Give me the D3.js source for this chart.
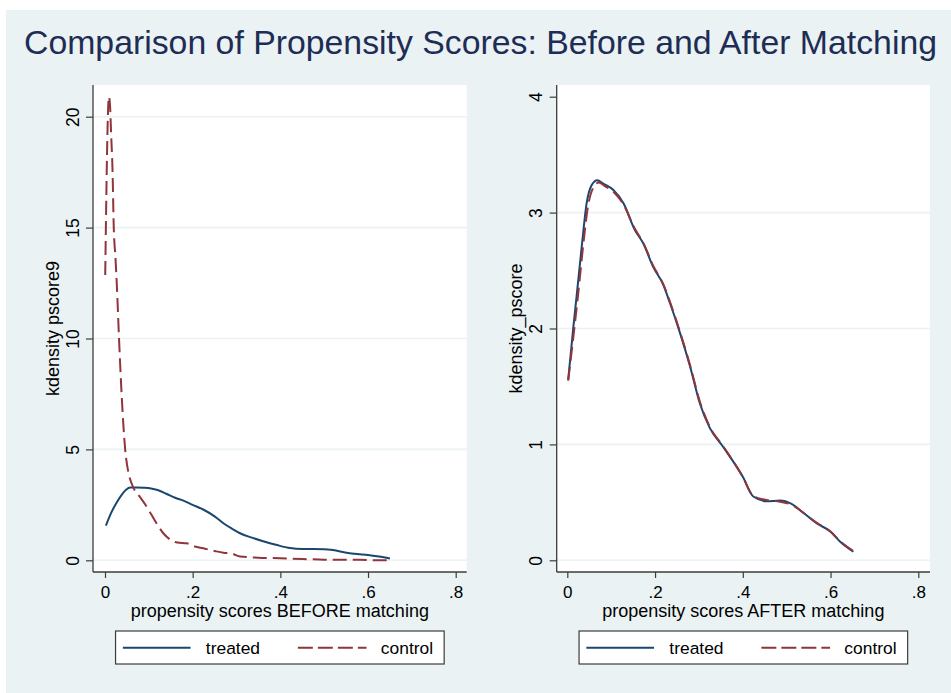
<!DOCTYPE html>
<html>
<head>
<meta charset="utf-8">
<script src="https://cdn.jsdelivr.net/npm/d3@7"></script>
<style>
  html, body { margin: 0; padding: 0; background: #ffffff; }
  svg { display: block; font-family: "Liberation Sans", Arial, sans-serif; }
</style>
</head>
<body>
<svg id="chart" width="951" height="693"></svg>
<script>
// Kernel density estimates of the propensity score, by group
const beforeTreatedX = [0.002, 0.012, 0.025, 0.038, 0.048, 0.058, 0.072, 0.088, 0.105, 0.12, 0.14, 0.16, 0.18, 0.2, 0.224, 0.25, 0.27, 0.29, 0.308, 0.335, 0.361, 0.39, 0.422, 0.45, 0.475, 0.5, 0.52, 0.551, 0.575, 0.6, 0.625, 0.65];
const beforeTreatedY = [1.56, 2.05, 2.55, 2.95, 3.18, 3.28, 3.28, 3.27, 3.24, 3.17, 3.0, 2.82, 2.68, 2.5, 2.29, 1.98, 1.67, 1.42, 1.22, 1.02, 0.86, 0.7, 0.55, 0.51, 0.51, 0.5, 0.46, 0.34, 0.28, 0.24, 0.17, 0.08];

const beforeControlX = [0.0005, 0.002, 0.0045, 0.0065, 0.009, 0.0115, 0.014, 0.017, 0.02, 0.024, 0.027, 0.032, 0.038, 0.046, 0.053, 0.061, 0.068, 0.08, 0.095, 0.115, 0.133, 0.15, 0.165, 0.186, 0.205, 0.224, 0.25, 0.27, 0.29, 0.308, 0.35, 0.4, 0.45, 0.5, 0.55, 0.6, 0.65];
const beforeControlY = [12.86, 15.0, 18.2, 20.0, 20.9, 20.5, 19.2, 17.7, 15.0, 13.6, 12.4, 10.0, 7.45, 5.0, 4.0, 3.45, 3.15, 2.85, 2.42, 1.75, 1.22, 0.92, 0.8, 0.77, 0.62, 0.54, 0.42, 0.34, 0.3, 0.17, 0.12, 0.09, 0.06, 0.03, 0.03, 0.01, 0.0];

const afterTreatedX = [0.002, 0.014, 0.021, 0.033, 0.044, 0.056, 0.068, 0.082, 0.105, 0.128, 0.154, 0.173, 0.196, 0.219, 0.234, 0.257, 0.28, 0.302, 0.325, 0.355, 0.4, 0.424, 0.454, 0.485, 0.511, 0.538, 0.568, 0.599, 0.622, 0.652];
const afterTreatedY = [1.556, 2.02, 2.27, 2.71, 3.08, 3.24, 3.28, 3.25, 3.195, 3.08, 2.85, 2.735, 2.53, 2.375, 2.22, 1.96, 1.67, 1.355, 1.14, 0.98, 0.72, 0.55, 0.51, 0.515, 0.486, 0.41, 0.32, 0.25, 0.16, 0.074];

const afterControlX = [0.002, 0.016, 0.024, 0.036, 0.047, 0.06, 0.072, 0.085, 0.105, 0.128, 0.154, 0.173, 0.196, 0.219, 0.234, 0.257, 0.28, 0.302, 0.325, 0.355, 0.4, 0.424, 0.454, 0.485, 0.511, 0.538, 0.568, 0.599, 0.622, 0.652];
const afterControlY = [1.55, 2.0, 2.27, 2.71, 3.05, 3.22, 3.26, 3.23, 3.18, 3.07, 2.86, 2.74, 2.54, 2.38, 2.23, 1.97, 1.68, 1.37, 1.15, 0.985, 0.72, 0.555, 0.52, 0.505, 0.48, 0.41, 0.325, 0.25, 0.165, 0.08];

const xTicks = [0, 0.2, 0.4, 0.6, 0.8];
const xTickLabels = ["0", ".2", ".4", ".6", ".8"];
const beforeYTicks = [0, 5, 10, 15, 20];
const afterYTicks = [0, 1, 2, 3, 4];
const afterGridTicks = [0, 1, 2, 3];
const groupNames = ["treated", "control"];

const chartTitle = "Comparison of Propensity Scores: Before and After Matching";

const COLORS = { treated: "#1a476f", control: "#90353b" };
const BG = "#eaf2f3";

const svg = d3.select("#chart");

// graph background
svg.append("rect").attr("x", 6).attr("y", 10).attr("width", 945).attr("height", 683).attr("fill", BG);

svg.append("text")
  .attr("x", 480.5).attr("y", 54)
  .attr("text-anchor", "middle")
  .attr("font-size", 33.8)
  .attr("fill", "#1e2d55")
  .text(chartTitle);

function panel(opts) {
  const { left, right, top, bottom, x0px, x8px, y0px, yMaxPx, yMax, yTicks, gridTicks, yTitle, xTitle, series } = opts;
  const x = d3.scaleLinear().domain([0, 0.8]).range([x0px, x8px]);
  const y = d3.scaleLinear().domain([0, yMax]).range([y0px, yMaxPx]);
  const g = svg.append("g");

  g.append("rect").attr("x", left).attr("y", top).attr("width", right - left).attr("height", bottom - top).attr("fill", "#ffffff");

  g.selectAll("line.grid").data(gridTicks).join("line")
    .attr("class", "grid")
    .attr("x1", left).attr("x2", right)
    .attr("y1", d => y(d)).attr("y2", d => y(d))
    .attr("stroke", BG).attr("stroke-width", 1.6);

  // x axis
  const xAxis = d3.axisBottom(x).tickValues(xTicks).tickFormat((d, i) => xTickLabels[i]).tickSize(6).tickPadding(4);
  const gx = g.append("g").attr("transform", `translate(0,${bottom})`).call(xAxis);
  gx.select(".domain").attr("d", `M${left},0H${right}`).attr("stroke", "#3c3c3c").attr("stroke-width", 1.3);
  gx.selectAll(".tick line").attr("stroke", "#3c3c3c").attr("stroke-width", 1.2);
  gx.selectAll(".tick text").attr("font-size", 17).attr("font-family", "Liberation Sans, Arial, sans-serif").attr("fill", "#000").attr("dy", null).attr("y", 26);

  // y axis
  const yAxis = d3.axisLeft(y).tickValues(yTicks).tickFormat(d3.format("d")).tickSize(7).tickPadding(0);
  const gy = g.append("g").attr("transform", `translate(${left},0)`).call(yAxis);
  gy.select(".domain").attr("d", `M0,${top}V${bottom}`).attr("stroke", "#3c3c3c").attr("stroke-width", 1.3);
  gy.selectAll(".tick line").attr("stroke", "#3c3c3c").attr("stroke-width", 1.2);
  gy.selectAll(".tick text")
    .attr("font-size", 17.5).attr("font-family", "Liberation Sans, Arial, sans-serif").attr("fill", "#000")
    .attr("x", null).attr("dy", null)
    .attr("text-anchor", "middle")
    .attr("transform", "translate(-14.5,0) rotate(-90)");

  // axis titles
  g.append("text")
    .attr("transform", `translate(${left - 34.5},${(top + bottom) / 2}) rotate(-90)`)
    .attr("text-anchor", "middle").attr("font-size", 18).attr("fill", "#000")
    .text(yTitle);
  g.append("text")
    .attr("x", (left + right) / 2).attr("y", 617)
    .attr("text-anchor", "middle").attr("font-size", 18).attr("fill", "#000")
    .text(xTitle);

  // density curves
  const line = d3.line().x(d => x(d[0])).y(d => y(d[1])).curve(d3.curveMonotoneX);
  series.forEach(s => {
    const pts = s.xs.map((v, i) => [v, s.ys[i]]);
    g.append("path").datum(pts)
      .attr("d", line)
      .attr("fill", "none")
      .attr("stroke", COLORS[s.name])
      .attr("stroke-width", 2)
      .attr("stroke-dasharray", s.name === "control" ? "14,6" : null)
      .attr("stroke-linejoin", "round");
  });

  // legend
  const cx = (left + right) / 2;
  const lx = cx - 164.3, ly = 631;
  const lg = g.append("g").attr("transform", `translate(${lx},${ly})`);
  lg.append("rect").attr("width", 328.6).attr("height", 33).attr("fill", "#fff").attr("stroke", "#3c3c3c").attr("stroke-width", 1.2);
  const items = [
    { name: groupNames[0], x1: 7.3, x2: 75, tx: 90.3 },
    { name: groupNames[1], x1: 182.3, x2: 251, tx: 265.3 }
  ];
  items.forEach(it => {
    lg.append("line").attr("x1", it.x1).attr("x2", it.x2).attr("y1", 16.7).attr("y2", 16.7)
      .attr("stroke", COLORS[it.name]).attr("stroke-width", 2)
      .attr("stroke-dasharray", it.name === "control" ? "15,5" : null);
    lg.append("text").attr("x", it.tx).attr("y", 22.8).attr("font-size", 17.4).attr("fill", "#000").text(it.name);
  });
}

panel({
  left: 93, right: 466.7, top: 85, bottom: 572,
  x0px: 105, x8px: 455.7, y0px: 560.3, yMaxPx: 116.7, yMax: 20,
  yTicks: beforeYTicks, gridTicks: beforeYTicks,
  yTitle: "kdensity pscore9", xTitle: "propensity scores BEFORE matching",
  series: [
    { name: "treated", xs: beforeTreatedX, ys: beforeTreatedY },
    { name: "control", xs: beforeControlX, ys: beforeControlY }
  ]
});

panel({
  left: 556.7, right: 930, top: 85, bottom: 572,
  x0px: 567.3, x8px: 918.3, y0px: 560.3, yMaxPx: 96.7, yMax: 4,
  yTicks: afterYTicks, gridTicks: afterGridTicks,
  yTitle: "kdensity_pscore", xTitle: "propensity scores AFTER matching",
  series: [
    { name: "treated", xs: afterTreatedX, ys: afterTreatedY },
    { name: "control", xs: afterControlX, ys: afterControlY }
  ]
});
</script>
</body>
</html>
